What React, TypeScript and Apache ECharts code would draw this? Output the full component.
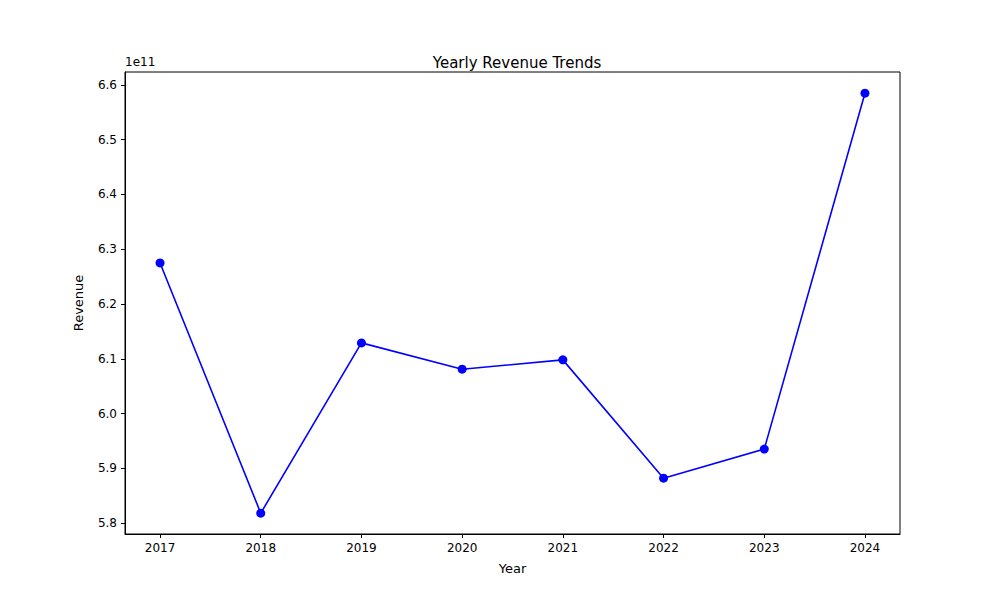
import { useEffect, useRef } from "react";
import * as echarts from "echarts";

const years = [2017, 2018, 2019, 2020, 2021, 2022, 2023, 2024];
const revenue = [6.275e11, 5.818e11, 6.129e11, 6.081e11, 6.098e11, 5.882e11, 5.935e11, 6.585e11];
const yTicks = [5.8e11, 5.9e11, 6.0e11, 6.1e11, 6.2e11, 6.3e11, 6.4e11, 6.5e11, 6.6e11];

const font = "DejaVu Sans";

export default function App() {
  const chartRef = useRef<HTMLDivElement>(null);

  useEffect(() => {
    if (!chartRef.current) return;
    const chart = echarts.init(chartRef.current, null, { renderer: "svg" });
    chart.setOption({
      animation: false,
      title: {
        text: "Yearly Revenue Trends",
        left: 512,
        top: 50,
        textAlign: "center",
        textStyle: { fontFamily: font, fontSize: 15, fontWeight: "normal", color: "#000" },
      },
      grid: { left: 125, right: 100, top: 72, bottom: 66, show: true, borderColor: "#000", borderWidth: 1 },
      xAxis: {
        type: "value",
        min: 2016.652,
        max: 2024.348,
        name: "Year",
        nameLocation: "middle",
        nameGap: 28,
        nameTextStyle: { fontFamily: font, fontSize: 13, color: "#000" },
        axisLine: { lineStyle: { color: "#000" } },
        axisTick: { customValues: years, length: 4, lineStyle: { color: "#000" } },
        axisLabel: {
          customValues: years,
          fontFamily: font,
          fontSize: 12,
          color: "#000",
          margin: 8,
          formatter: (v: number) => String(Math.round(v)),
        },
        splitLine: { show: false },
      },
      yAxis: {
        type: "value",
        min: 5.78e11,
        max: 6.6237e11,
        name: "Revenue",
        nameLocation: "middle",
        nameGap: 40,
        nameTextStyle: { fontFamily: font, fontSize: 13, color: "#000" },
        axisLine: { show: true, lineStyle: { color: "#000" } },
        axisTick: { show: true, customValues: yTicks, length: 4, lineStyle: { color: "#000" } },
        axisLabel: {
          customValues: yTicks,
          fontFamily: font,
          fontSize: 12,
          color: "#000",
          formatter: (v: number) => (v / 1e11).toFixed(1),
        },
        splitLine: { show: false },
      },
      graphic: [
        { type: "text", left: 125, top: 56, style: { text: "1e11", font: `12px '${font}'`, fill: "#000" } },
      ],
      series: [
        {
          type: "line",
          data: years.map((y, i) => [y, revenue[i]]),
          color: "#0000ff",
          lineStyle: { width: 1.6, color: "#0000ff" },
          symbol: "circle",
          symbolSize: 9,
          itemStyle: { color: "#0000ff" },
        },
      ],
    });
    return () => chart.dispose();
  }, []);

  return <div ref={chartRef} style={{ width: 1000, height: 600, margin: -8 }} />;
}
